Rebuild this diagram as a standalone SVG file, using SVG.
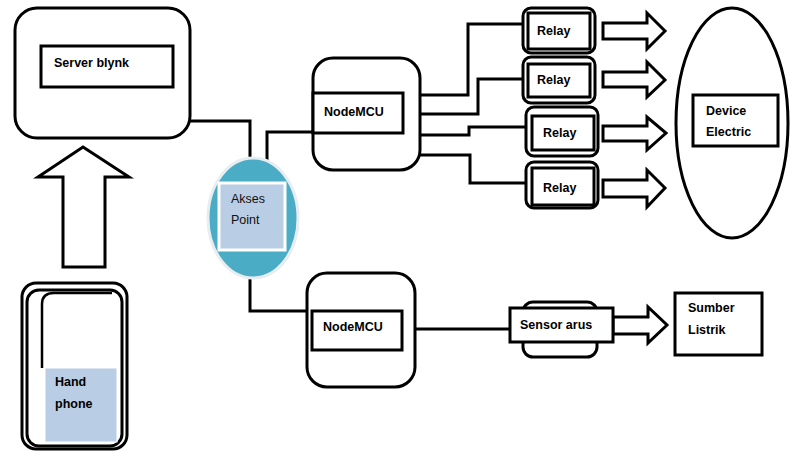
<svg xmlns="http://www.w3.org/2000/svg" width="790" height="451" viewBox="0 0 790 451">
<style>
.b{fill:#fff;stroke:#000;stroke-width:3}
.t{font-family:"Liberation Sans",Arial,sans-serif;font-weight:bold;font-size:12.5px;fill:#000}
.r{font-family:"Liberation Sans",Arial,sans-serif;font-size:12.5px;fill:#111}
.c{fill:none;stroke:#000;stroke-width:3}
.a{fill:#fff;stroke:#000;stroke-width:3;stroke-linejoin:miter}
</style>
<rect width="790" height="451" fill="#fff"/>
<g id="connectors">
<path class="c" d="M190,121 H250 V163"/>
<path class="c" d="M267,172 V132 H313"/>
<path class="c" d="M250,276 V311 H312"/>
<path class="c" d="M418,95 H468 V24 H523" stroke-width="2.5"/>
<path class="c" d="M418,114 H478 V79 H523"/>
<path class="c" d="M418,135 H469 V127 H526" stroke-width="2.5"/>
<path class="c" d="M418,155 H470 V183 H526"/>
<path class="c" d="M415,329 H510" stroke-width="2"/>
</g>
<g id="server">
<rect class="b" x="15" y="8" width="175" height="130" rx="22"/>
<rect class="b" x="41" y="46" width="132" height="41"/>
<text class="t" x="54" y="67">Server blynk</text>
</g>
<g id="uparrow">
<polygon class="a" points="83,147 129,177 105,177 105,267 63,267 63,177 38,177"/>
</g>
<g id="handphone">
<rect class="b" x="22" y="283" width="105" height="166" rx="14"/>
<rect class="b" x="27" y="290" width="95" height="156" rx="12" stroke-width="2.5"/>
<path d="M42,368 V304 Q42,293 54,293 H112" fill="none" stroke="#000" stroke-width="2.5"/>
<rect x="45" y="368" width="72" height="74" fill="#b9cde5" stroke="#fff" stroke-width="1"/>
<text class="t" x="55" y="386">Hand</text>
<text class="t" x="55" y="408">phone</text>
</g>
<g id="akses-point">
<ellipse cx="254" cy="219" rx="45" ry="60" fill="#c9d3da"/>
<ellipse cx="253" cy="218" rx="45" ry="60" fill="#4bacc6" stroke="#e8edf0" stroke-width="3"/>
<rect x="219" y="183" width="66" height="67" fill="#b9cde5" stroke="#fff" stroke-width="3"/>
<text class="r" x="231" y="203">Akses</text>
<text class="r" x="231" y="224">Point</text>
</g>
<g id="nodemcu1">
<rect class="b" x="313" y="58" width="107" height="112" rx="20"/>
<rect class="b" x="313" y="93" width="90" height="40"/>
<text class="t" x="324" y="116" font-size="12">NodeMCU</text>
</g>
<g id="nodemcu2">
<rect class="b" x="307" y="273" width="108" height="114" rx="20"/>
<rect class="b" x="312" y="311" width="90" height="39"/>
<text class="t" x="323" y="331" font-size="12">NodeMCU</text>
</g>
<g id="relay1">
<rect class="b" x="523" y="8" width="72" height="45" rx="8" stroke-width="3.5"/>
<rect class="b" x="528" y="13" width="62" height="36" stroke-width="2.5"/>
<text class="t" x="537" y="35">Relay</text>
</g>
<g id="relay2">
<rect class="b" x="523" y="57" width="72" height="46" rx="8" stroke-width="3.5"/>
<rect class="b" x="528" y="64" width="62" height="33" stroke-width="2.5"/>
<text class="t" x="537" y="84">Relay</text>
</g>
<g id="relay3">
<rect class="b" x="526" y="107" width="72" height="49" rx="8" stroke-width="3.5"/>
<rect class="b" x="532" y="116" width="62" height="34" stroke-width="2.5"/>
<text class="t" x="543" y="137">Relay</text>
</g>
<g id="relay4">
<rect class="b" x="526" y="162" width="72" height="46" rx="8" stroke-width="3.5"/>
<rect class="b" x="532" y="168" width="62" height="37" stroke-width="2.5"/>
<text class="t" x="543" y="192">Relay</text>
</g>
<g id="arrows">
<polygon class="a" points="603,23 647,23 647,13 665,31 647,49 647,39 603,39"/>
<polygon class="a" points="603,72 647,72 647,62 665,80 647,97 647,87 603,87"/>
<polygon class="a" points="603,126 647,126 647,117 666,133 647,150 647,141 603,141"/>
<polygon class="a" points="603,180 647,180 647,170 665,188 647,207 647,197 603,197"/>
<polygon class="a" points="613,317 648,317 648,307 667,325 648,343 648,334 613,334"/>
</g>
<g id="device-electric">
<ellipse cx="732" cy="123" rx="56" ry="115" fill="#fff" stroke="#000" stroke-width="3"/>
<rect class="b" x="693" y="95" width="85" height="51"/>
<text class="t" x="706" y="115">Device</text>
<text class="t" x="706" y="136">Electric</text>
</g>
<g id="sensor-arus">
<rect class="b" x="523" y="302" width="74" height="55" rx="10" stroke-width="2.5"/>
<rect class="b" x="510" y="308" width="103" height="34"/>
<text class="t" x="520" y="329">Sensor arus</text>
</g>
<g id="sumber-listrik">
<rect class="b" x="675" y="293" width="87" height="62"/>
<text class="t" x="688" y="312">Sumber</text>
<text class="t" x="688" y="334">Listrik</text>
</g>
</svg>
